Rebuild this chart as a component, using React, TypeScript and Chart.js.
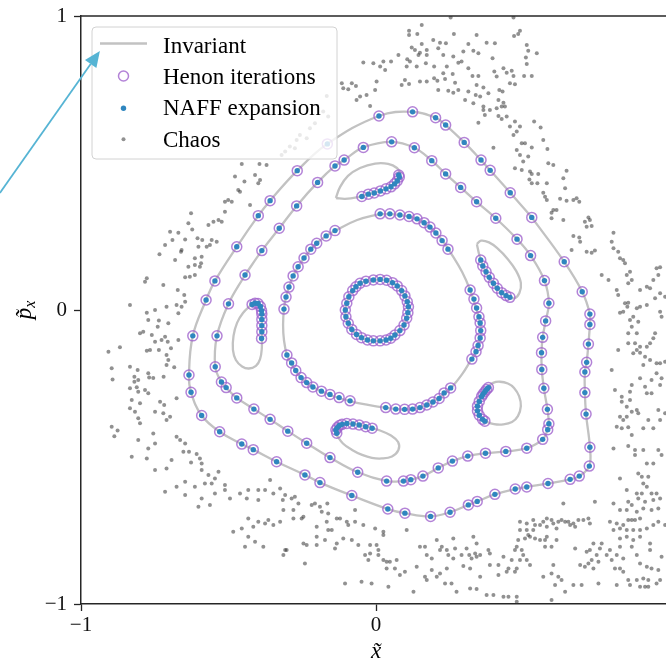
import React, { useEffect, useRef } from 'react';
import { Chart, registerables } from 'chart.js';

Chart.register(...registerables);

type P = [number, number];

// ---------- axes / labels ----------
const X_MIN = -1;
const X_MAX = 0.983;
const Y_MIN = -1;
const Y_MAX = 1;
const X_TICKS = [-1, 0];
const Y_TICKS = [-1, 0, 1];
const X_TITLE = 'x\u0303';
const Y_TITLE_MAIN = 'p\u0303';
const Y_TITLE_SUB = 'x';
const LEGEND_LABELS = ['Invariant', 'Henon iterations', 'NAFF expansion', 'Chaos'];
const ARROW_FROM: P = [-1.275, 0.398];
const ARROW_TO: P = [-0.936, 0.881];

// ---------- Henon iterations (NAFF evaluated at the same turns) ----------
const HENON_C1: P[] = [
  [-0.054, 0.091], [-0.034, 0.098], [-0.009, 0.102], [0.014, 0.104], [0.036, 0.101], [0.056, 0.093],
  [0.072, 0.082], [0.087, 0.066], [0.098, 0.048], [0.106, 0.028], [0.110, 0.011], [0.108, -0.009],
  [0.104, -0.028], [0.095, -0.051], [0.081, -0.070], [0.064, -0.085], [0.050, -0.096], [0.034, -0.102],
  [0.014, -0.105], [-0.009, -0.105], [-0.029, -0.102], [-0.049, -0.094], [-0.066, -0.083], [-0.082, -0.066],
  [-0.094, -0.045], [-0.102, -0.023], [-0.104, 0.0], [-0.099, 0.023], [-0.092, 0.045], [-0.079, 0.066],
  [-0.068, 0.079],
];

const HENON_C2: P[] = [
  [0.014, 0.327], [0.047, 0.327], [0.081, 0.323], [0.112, 0.318], [0.139, 0.310], [0.163, 0.297],
  [0.183, 0.282], [0.203, 0.262], [0.224, 0.236], [0.244, 0.207],
  [0.319, 0.068], [0.332, 0.037], [0.341, 0.007], [0.349, -0.023], [0.353, -0.044], [0.355, -0.070],
  [0.353, -0.095], [0.346, -0.121], [0.339, -0.142], [0.325, -0.167],
  [0.253, -0.265], [0.231, -0.282], [0.214, -0.301], [0.193, -0.313], [0.172, -0.323], [0.149, -0.332],
  [0.124, -0.337], [0.097, -0.338], [0.067, -0.337], [0.033, -0.332],
  [-0.088, -0.309], [-0.125, -0.298], [-0.156, -0.287], [-0.185, -0.276], [-0.214, -0.262], [-0.235, -0.247],
  [-0.254, -0.230], [-0.272, -0.206], [-0.286, -0.180], [-0.302, -0.153],
  [-0.312, 0.003], [-0.305, 0.044], [-0.295, 0.078], [-0.281, 0.116], [-0.264, 0.147], [-0.244, 0.177],
  [-0.221, 0.207], [-0.201, 0.227], [-0.169, 0.252], [-0.139, 0.270],
];

const HENON_C3: P[] = [
  [-0.444, 0.119], [-0.387, 0.202], [-0.328, 0.278], [-0.269, 0.354], [-0.198, 0.434], [-0.139, 0.490],
  [-0.108, 0.510], [-0.043, 0.553], [0.053, 0.572], [0.130, 0.552], [0.189, 0.508], [0.236, 0.463],
  [0.287, 0.417], [0.341, 0.368], [0.406, 0.312], [0.478, 0.241], [0.524, 0.185], [0.571, 0.100],
  [0.586, 0.023], [0.575, -0.037], [0.565, -0.093], [0.561, -0.145], [0.562, -0.202], [0.569, -0.266],
  [0.581, -0.338], [0.586, -0.387], [0.582, -0.407], [0.565, -0.440], [0.511, -0.470], [0.440, -0.481],
  [0.371, -0.487], [0.311, -0.497], [0.259, -0.514], [0.211, -0.537], [0.159, -0.565], [0.118, -0.577],
  [0.093, -0.582], [0.036, -0.582], [-0.062, -0.552], [-0.156, -0.502], [-0.235, -0.453], [-0.299, -0.412],
  [-0.359, -0.372], [-0.414, -0.337], [-0.472, -0.299], [-0.508, -0.264], [-0.524, -0.245], [-0.545, -0.193],
  [-0.539, -0.088], [-0.500, 0.021],
];

const HENON_C4: P[] = [
  [0.528, 0.315], [0.638, 0.164], [0.699, 0.062], [0.725, -0.014], [0.725, -0.049], [0.720, -0.116],
  [0.714, -0.178], [0.708, -0.211], [0.708, -0.281], [0.712, -0.354], [0.725, -0.467], [0.723, -0.531],
  [0.689, -0.565], [0.658, -0.576], [0.583, -0.590], [0.511, -0.602], [0.472, -0.609], [0.403, -0.627],
  [0.343, -0.651], [0.313, -0.663], [0.251, -0.688], [0.185, -0.702], [0.098, -0.691], [0.040, -0.677],
  [-0.082, -0.631], [-0.190, -0.587], [-0.241, -0.561], [-0.337, -0.516], [-0.416, -0.475], [-0.455, -0.456],
  [-0.530, -0.414], [-0.591, -0.359], [-0.627, -0.280], [-0.634, -0.221], [-0.621, -0.088], [-0.576, 0.034],
  [-0.546, 0.099], [-0.472, 0.215], [-0.399, 0.321], [-0.359, 0.372], [-0.267, 0.474], [-0.165, 0.565],
  [0.010, 0.660], [0.124, 0.674], [0.202, 0.654], [0.236, 0.629], [0.299, 0.570], [0.356, 0.510],
  [0.387, 0.475], [0.455, 0.399],
];

const HENON_ISL_A: P[] = [
  [-0.048, 0.386], [-0.026, 0.394], [-0.006, 0.398], [0.015, 0.405], [0.034, 0.412], [0.051, 0.419],
  [0.063, 0.429], [0.072, 0.439], [0.079, 0.452], [0.077, 0.459],
];
const HENON_ISL_B: P[] = [
  [0.355, 0.170], [0.362, 0.150], [0.373, 0.130], [0.384, 0.111], [0.398, 0.091], [0.411, 0.074],
  [0.426, 0.059], [0.441, 0.049], [0.454, 0.043],
];
const HENON_ISL_C: P[] = [
  [0.381, -0.264], [0.375, -0.270], [0.369, -0.278], [0.363, -0.286], [0.358, -0.294], [0.350, -0.311],
  [0.344, -0.327], [0.344, -0.343], [0.350, -0.358], [0.361, -0.372], [0.369, -0.378],
];
const HENON_ISL_D: P[] = [
  [-0.133, -0.419], [-0.136, -0.408], [-0.131, -0.400], [-0.124, -0.393], [-0.115, -0.389], [-0.099, -0.386],
  [-0.078, -0.388], [-0.057, -0.391], [-0.035, -0.397], [-0.013, -0.402],
];
const HENON_ISL_E: P[] = [
  [-0.420, 0.019], [-0.410, 0.023], [-0.400, 0.022], [-0.392, 0.012], [-0.388, -0.002], [-0.387, -0.014],
  [-0.387, -0.032], [-0.387, -0.053], [-0.387, -0.074], [-0.388, -0.097],
];

// ---------- invariant curves (where they differ from the iterations) ----------
const INV_C2: P[] = [
  [0.014, 0.327], [0.081, 0.323], [0.136, 0.310], [0.183, 0.282], [0.224, 0.238], [0.258, 0.187],
  [0.292, 0.129], [0.319, 0.068], [0.339, 0.007], [0.353, -0.044], [0.356, -0.071], [0.353, -0.095],
  [0.339, -0.143], [0.322, -0.170], [0.292, -0.218], [0.254, -0.265], [0.214, -0.299], [0.173, -0.323],
  [0.125, -0.337], [0.068, -0.337], [0.034, -0.333], [-0.027, -0.323], [-0.088, -0.310], [-0.156, -0.289],
  [-0.214, -0.262], [-0.254, -0.231], [-0.285, -0.187], [-0.302, -0.153], [-0.312, -0.102], [-0.315, -0.051],
  [-0.312, 0.003], [-0.305, 0.044], [-0.295, 0.078], [-0.281, 0.116], [-0.264, 0.146], [-0.244, 0.177],
  [-0.220, 0.207], [-0.200, 0.228], [-0.169, 0.252], [-0.139, 0.269], [-0.064, 0.306],
];
const INV_ISL_A: P[] = [
  [-0.136, 0.381], [-0.122, 0.418], [-0.095, 0.456], [-0.054, 0.483], [-0.003, 0.498], [0.041, 0.497],
  [0.071, 0.483], [0.083, 0.463], [0.078, 0.442], [0.058, 0.425], [0.024, 0.408], [-0.020, 0.395],
  [-0.061, 0.384], [-0.105, 0.378],
];
const INV_ISL_B: P[] = [
  [0.342, 0.224], [0.356, 0.236], [0.383, 0.230], [0.410, 0.211], [0.447, 0.173], [0.475, 0.133],
  [0.491, 0.092], [0.486, 0.058], [0.468, 0.040], [0.444, 0.046], [0.414, 0.070], [0.386, 0.105],
  [0.366, 0.143], [0.351, 0.184],
];
const INV_ISL_C: P[] = [
  [0.376, -0.265], [0.397, -0.248], [0.420, -0.244], [0.447, -0.250], [0.468, -0.265], [0.485, -0.293],
  [0.491, -0.327], [0.481, -0.361], [0.461, -0.381], [0.431, -0.389], [0.400, -0.388], [0.373, -0.379],
  [0.353, -0.362], [0.342, -0.340], [0.345, -0.316], [0.354, -0.294], [0.366, -0.276],
];
const INV_ISL_D: P[] = [
  [-0.136, -0.422], [-0.112, -0.454], [-0.081, -0.476], [-0.047, -0.493], [-0.014, -0.503], [0.020, -0.505],
  [0.054, -0.498], [0.076, -0.476], [0.075, -0.449], [0.051, -0.427], [0.014, -0.410], [-0.027, -0.398],
  [-0.071, -0.388], [-0.112, -0.388], [-0.132, -0.401],
];
const INV_ISL_E: P[] = [
  [-0.424, 0.017], [-0.451, -0.010], [-0.471, -0.044], [-0.483, -0.088], [-0.485, -0.136], [-0.475, -0.170],
  [-0.454, -0.192], [-0.431, -0.199], [-0.407, -0.190], [-0.393, -0.167], [-0.387, -0.129], [-0.387, -0.085],
  [-0.387, -0.034], [-0.390, 0.003], [-0.403, 0.026],
];

// ---------- chaotic orbit ----------
const CHAOS_TOP: P[] = [
  [0.253, 0.995], [0.466, 0.995], [0.155, 0.969], [0.112, 0.950], [0.140, 0.939], [0.112, 0.935], [0.264, 0.939],
  [0.341, 0.935], [0.488, 0.950], [0.482, 0.939], [0.468, 0.932], [0.194, 0.918], [0.217, 0.909], [0.237, 0.907],
  [0.155, 0.905], [0.313, 0.905], [0.375, 0.909], [0.403, 0.907], [0.511, 0.901], [0.121, 0.893], [0.132, 0.884],
  [0.172, 0.884], [0.211, 0.890], [0.296, 0.879], [0.330, 0.882], [0.347, 0.873], [0.516, 0.882], [0.545, 0.873],
  [0.076, 0.867], [0.149, 0.875], [0.144, 0.867], [0.172, 0.867], [0.228, 0.867], [0.262, 0.862], [0.279, 0.841],
  [0.290, 0.845], [0.395, 0.856], [0.508, 0.859], [0.106, 0.853], [0.115, 0.845], [-0.043, 0.842], [-0.009, 0.839],
  [0.025, 0.845], [0.051, 0.845], [0.014, 0.828], [0.031, 0.816], [0.104, 0.828], [0.138, 0.828], [0.169, 0.839],
  [0.197, 0.828], [0.240, 0.828], [0.313, 0.822], [0.401, 0.811], [0.432, 0.822], [0.460, 0.814], [0.511, 0.837],
  [0.443, 0.807], [0.228, 0.805], [0.260, 0.803], [0.327, 0.796], [0.347, 0.796], [0.409, 0.794], [0.466, 0.796],
  [0.502, 0.796], [0.528, 0.796], [0.098, 0.782], [0.087, 0.765], [0.112, 0.769], [0.149, 0.777], [0.172, 0.777],
  [0.197, 0.788], [0.208, 0.780], [0.234, 0.786], [0.268, 0.773], [0.341, 0.765], [0.364, 0.757], [0.418, 0.748],
  [0.429, 0.743], [0.471, 0.768], [0.454, 0.771], [-0.116, 0.771], [-0.082, 0.771], [-0.111, 0.754], [-0.094, 0.751],
  [-0.068, 0.762], [0.002, 0.777], [-0.003, 0.748], [-0.032, 0.731], [-0.066, 0.714], [-0.054, 0.726], [0.211, 0.748],
  [0.245, 0.746], [0.279, 0.748], [0.262, 0.739], [0.313, 0.743], [0.338, 0.731], [0.353, 0.726], [0.381, 0.737],
  [0.415, 0.714], [0.432, 0.705], [0.409, 0.686], [0.426, 0.692], [0.437, 0.692], [0.330, 0.703], [0.364, 0.692],
  [0.302, 0.714], [0.364, 0.680], [0.369, 0.663], [0.415, 0.660], [0.426, 0.650], [0.443, 0.658], [0.386, 0.680],
  [0.347, 0.637], [0.454, 0.624], [0.471, 0.641], [0.488, 0.624], [0.477, 0.607], [0.536, 0.641], [0.558, 0.621],
  [0.466, 0.595], [0.494, 0.567], [0.505, 0.567], [0.528, 0.553], [0.477, 0.544], [0.488, 0.527], [0.516, 0.522],
  [0.499, 0.505], [0.398, 0.552], [0.567, 0.578], [0.581, 0.548], [0.601, 0.493], [0.584, 0.499], [0.471, 0.482],
  [0.494, 0.476], [0.522, 0.471], [0.528, 0.463], [0.550, 0.463], [0.520, 0.444], [0.528, 0.431], [0.547, 0.431],
  [0.579, 0.431], [0.646, 0.474], [0.635, 0.448], [0.567, 0.399], [0.573, 0.385], [0.579, 0.374], [0.624, 0.378],
  [0.646, 0.372], [0.669, 0.374], [0.680, 0.380], [0.689, 0.368], [0.641, 0.414], [0.601, 0.340], [0.612, 0.340],
  [0.595, 0.331], [0.595, 0.312], [0.635, 0.306], [0.720, 0.315], [0.708, 0.300], [0.725, 0.306], [0.714, 0.283],
  [0.731, 0.286], [0.805, 0.263], [0.669, 0.252], [0.689, 0.247], [-0.020, 0.694],
  [0.692, 0.232], [0.742, 0.202], [0.731, 0.195], [0.714, 0.198], [0.663, 0.204],
];

const CHAOS_UNDER_LEGEND: P[] = [
  [-0.167, 0.728], [-0.179, 0.675], [-0.162, 0.658], [-0.207, 0.635], [-0.224, 0.618], [-0.258, 0.595],
  [-0.269, 0.578], [-0.292, 0.556], [-0.308, 0.539], [-0.320, 0.527], [-0.235, 0.584], [-0.275, 0.550],
];

const CHAOS_RIGHT: P[] = [
  [0.799, 0.232], [0.805, 0.210], [0.821, 0.198], [0.827, 0.176], [0.838, 0.170], [0.765, 0.119], [0.788, 0.102],
  [0.844, 0.159], [0.861, 0.130], [0.850, 0.119], [0.867, 0.102], [0.855, 0.091], [0.895, 0.068], [0.918, 0.079],
  [0.929, 0.074], [0.951, 0.142], [0.963, 0.145], [0.957, 0.119], [0.940, 0.102], [0.816, 0.068], [0.821, 0.051],
  [0.844, 0.023], [0.855, 0.025], [0.852, 0.011], [0.838, -0.006], [0.827, -0.009], [0.884, 0.006], [0.895, 0.011],
  [0.918, 0.017], [0.946, 0.040], [0.963, 0.057], [0.980, 0.045], [0.963, -0.006], [0.968, -0.023], [0.872, -0.023],
  [0.861, -0.034], [0.889, -0.040], [0.867, -0.057], [0.855, -0.079], [0.884, -0.079], [0.855, -0.113], [0.878, -0.113],
  [0.895, -0.125], [0.918, -0.125], [0.929, -0.113], [0.884, -0.136], [0.872, -0.147], [0.895, -0.145], [0.912, -0.159],
  [0.929, -0.170], [0.906, -0.187], [0.951, -0.181], [0.963, -0.181], [0.980, -0.176], [0.940, -0.096], [0.946, -0.079],
  [0.821, -0.136], [0.799, -0.204], [0.895, -0.232], [0.934, -0.238], [0.951, -0.215], [0.968, -0.232], [0.963, -0.255],
  [0.912, -0.261], [0.918, -0.283], [0.934, -0.283], [0.867, -0.255], [0.861, -0.278], [0.810, -0.272], [0.833, -0.295],
  [0.861, -0.306], [0.833, -0.312], [0.850, -0.329], [0.867, -0.346], [0.827, -0.363], [0.850, -0.363], [0.838, -0.374],
  [0.884, -0.340], [0.889, -0.351], [0.855, -0.399], [0.816, -0.397], [0.833, -0.402], [0.867, -0.425], [0.906, -0.402],
  [0.923, -0.374], [0.940, -0.402], [0.957, -0.340], [0.980, -0.351], [0.963, -0.374],
];

const CHAOS_LEFT: P[] = [
  [-0.455, 0.497], [-0.395, 0.497], [-0.371, 0.493], [-0.478, 0.454], [-0.446, 0.437], [-0.410, 0.459], [-0.393, 0.442],
  [-0.399, 0.431], [-0.461, 0.402], [-0.467, 0.408], [-0.501, 0.374], [-0.512, 0.368], [-0.489, 0.368], [-0.427, 0.357],
  [-0.512, 0.334], [-0.627, 0.329], [-0.551, 0.300], [-0.534, 0.306], [-0.523, 0.300], [-0.568, 0.289], [-0.636, 0.295],
  [-0.623, 0.274], [-0.698, 0.266], [-0.670, 0.263], [-0.647, 0.240], [-0.715, 0.221], [-0.690, 0.238], [-0.605, 0.244],
  [-0.589, 0.238], [-0.557, 0.238], [-0.540, 0.232], [-0.602, 0.215], [-0.574, 0.215], [-0.563, 0.221], [-0.659, 0.204],
  [-0.661, 0.198], [-0.734, 0.190], [-0.681, 0.170], [-0.614, 0.176], [-0.591, 0.181], [-0.636, 0.147], [-0.614, 0.153],
  [-0.593, 0.159], [-0.597, 0.147], [-0.647, 0.111], [-0.631, 0.113], [-0.614, 0.119], [-0.777, 0.108], [-0.783, 0.096],
  [-0.721, 0.085], [-0.672, 0.068], [-0.650, 0.051], [-0.647, 0.028], [-0.659, 0.011], [-0.676, 0.017], [-0.710, 0.011],
  [-0.670, -0.011], [-0.834, 0.017], [-0.777, -0.009], [-0.749, 0.000], [-0.772, -0.034], [-0.736, -0.036], [-0.740, -0.057],
  [-0.704, -0.045], [-0.800, -0.079], [-0.789, -0.074], [-0.760, -0.085], [-0.715, -0.091], [-0.749, -0.108], [-0.727, -0.102],
  [-0.706, -0.108], [-0.670, -0.102], [-0.695, -0.130], [-0.777, -0.139], [-0.766, -0.136], [-0.736, -0.136], [-0.710, -0.153],
  [-0.907, -0.142], [-0.868, -0.127], [-0.704, -0.170], [-0.710, -0.187], [-0.684, -0.195], [-0.896, -0.198], [-0.834, -0.193],
  [-0.808, -0.204], [-0.772, -0.215], [-0.893, -0.236], [-0.819, -0.227], [-0.806, -0.238], [-0.769, -0.230], [-0.720, -0.227],
  [-0.755, -0.231], [-0.819, -0.244], [-0.834, -0.266], [-0.811, -0.263], [-0.806, -0.278], [-0.783, -0.272], [-0.772, -0.283],
  [-0.676, -0.300], [-0.828, -0.306], [-0.800, -0.317], [-0.732, -0.312], [-0.718, -0.323], [-0.817, -0.346], [-0.834, -0.334],
  [-0.749, -0.346], [-0.721, -0.351], [-0.698, -0.363], [-0.806, -0.368], [-0.800, -0.385], [-0.710, -0.374], [-0.896, -0.397],
  [-0.876, -0.410], [-0.887, -0.429], [-0.755, -0.420], [-0.676, -0.431], [-0.664, -0.442], [-0.647, -0.454], [-0.806, -0.442],
  [-0.749, -0.454], [-0.772, -0.471], [-0.653, -0.482], [-0.634, -0.482], [-0.608, -0.490], [-0.591, -0.522], [-0.627, -0.519],
  [-0.597, -0.505], [-0.828, -0.499], [-0.777, -0.505], [-0.749, -0.544], [-0.710, -0.539], [-0.693, -0.510], [-0.591, -0.544],
  [-0.534, -0.550], [-0.568, -0.561], [-0.546, -0.573], [-0.647, -0.584], [-0.614, -0.601], [-0.580, -0.590], [-0.557, -0.590],
  [-0.512, -0.595], [-0.676, -0.601], [-0.715, -0.618], [-0.647, -0.629], [-0.591, -0.641], [-0.546, -0.624], [-0.512, -0.612],
  [-0.495, -0.641], [-0.461, -0.624], [-0.433, -0.612], [-0.438, -0.641], [-0.399, -0.612], [-0.376, -0.612], [-0.399, -0.646],
  [-0.602, -0.669], [-0.563, -0.663], [-0.484, -0.754], [-0.455, -0.743], [-0.433, -0.709], [-0.416, -0.737], [-0.399, -0.720],
  [-0.376, -0.726], [-0.365, -0.714], [-0.433, -0.771], [-0.410, -0.788], [-0.444, -0.805], [-0.382, -0.805],
];

const CHAOS_BOTTOM: P[] = [
  [-0.359, -0.578], [-0.348, -0.624], [-0.325, -0.607], [-0.316, -0.646], [-0.308, -0.629], [-0.286, -0.641], [-0.275, -0.635],
  [-0.280, -0.680], [-0.314, -0.680], [-0.263, -0.658], [-0.218, -0.663], [-0.207, -0.658], [-0.190, -0.669], [-0.165, -0.658],
  [-0.184, -0.686], [-0.162, -0.692], [-0.348, -0.731], [-0.325, -0.720], [-0.280, -0.709], [-0.252, -0.709], [-0.246, -0.703],
  [-0.201, -0.737], [-0.167, -0.720], [-0.162, -0.748], [-0.150, -0.748], [-0.133, -0.709], [-0.122, -0.709], [-0.099, -0.720],
  [-0.094, -0.731], [-0.071, -0.720], [-0.071, -0.680], [-0.043, -0.731], [-0.003, -0.743], [0.025, -0.754], [0.025, -0.765],
  [-0.308, -0.816], [-0.314, -0.833], [-0.303, -0.816], [-0.246, -0.794], [-0.235, -0.799], [-0.201, -0.771], [-0.201, -0.799],
  [-0.173, -0.782], [-0.133, -0.794], [-0.139, -0.811], [-0.111, -0.777], [-0.082, -0.782], [-0.060, -0.799], [-0.037, -0.833],
  [-0.020, -0.828], [-0.020, -0.799], [0.002, -0.799], [0.008, -0.816], [0.008, -0.833], [-0.026, -0.850], [-0.241, -0.862],
  [-0.105, -0.930], [-0.049, -0.924], [-0.015, -0.930], [0.025, -0.850], [0.036, -0.856], [0.047, -0.856], [0.070, -0.850],
  [0.064, -0.879], [0.098, -0.890], [0.081, -0.901], [0.036, -0.879], [0.042, -0.941], [0.104, -0.748], [0.127, -0.958],
  [0.138, -0.873], [0.149, -0.805], [0.166, -0.805], [0.172, -0.833], [0.189, -0.845], [0.206, -0.782], [0.217, -0.816],
  [0.223, -0.805], [0.240, -0.816], [0.268, -0.811], [0.245, -0.833], [0.262, -0.845], [0.290, -0.833], [0.307, -0.811],
  [0.316, -0.833], [0.324, -0.845], [0.336, -0.828], [0.341, -0.839], [0.353, -0.833], [0.381, -0.816], [0.386, -0.828],
  [0.330, -0.771], [0.341, -0.794], [0.262, -0.777], [0.206, -0.907], [0.217, -0.896], [0.234, -0.930], [0.256, -0.930],
  [0.273, -0.958], [0.319, -0.947], [0.341, -0.949], [0.375, -0.969], [0.398, -0.969], [0.432, -0.975], [0.449, -0.975],
  [0.477, -0.975], [0.477, -0.992], [0.166, -0.907], [0.172, -0.918], [0.189, -0.884], [0.240, -0.879], [0.296, -0.871],
  [0.319, -0.879], [0.353, -0.907], [0.386, -0.867], [0.415, -0.867], [0.415, -0.901], [0.432, -0.839], [0.443, -0.890],
  [0.449, -0.879], [0.471, -0.890], [0.477, -0.879], [0.460, -0.850], [0.488, -0.850], [0.494, -0.816], [0.499, -0.833],
  [0.511, -0.850], [0.522, -0.867], [0.477, -0.805], [0.471, -0.816], [0.516, -0.765], [0.482, -0.782], [0.505, -0.777],
  [0.522, -0.771], [0.539, -0.777], [0.556, -0.782], [0.573, -0.782], [0.488, -0.720], [0.511, -0.726], [0.533, -0.714],
  [0.539, -0.731], [0.556, -0.731], [0.567, -0.720], [0.579, -0.709], [0.579, -0.737], [0.595, -0.714], [0.601, -0.726],
  [0.612, -0.743], [0.618, -0.720], [0.629, -0.714], [0.641, -0.720], [0.652, -0.720], [0.658, -0.731], [0.669, -0.726],
  [0.675, -0.737], [0.686, -0.714], [0.703, -0.714], [0.720, -0.709], [0.725, -0.726], [0.488, -0.748], [0.511, -0.748],
  [0.533, -0.748], [0.579, -0.771], [0.595, -0.805], [0.612, -0.782], [0.573, -0.805], [0.675, -0.811], [0.714, -0.822],
  [0.725, -0.816], [0.737, -0.794], [0.765, -0.794], [0.759, -0.811], [0.748, -0.833], [0.731, -0.850], [0.754, -0.856],
  [0.720, -0.862], [0.692, -0.867], [0.708, -0.873], [0.737, -0.879], [0.601, -0.867], [0.567, -0.907], [0.595, -0.896],
  [0.618, -0.907], [0.607, -0.935], [0.629, -0.918], [0.641, -0.958], [0.595, -0.986], [0.669, -0.935], [0.697, -0.935],
  [0.754, -0.930], [0.793, -0.720], [0.816, -0.726], [0.838, -0.731], [0.867, -0.714], [0.805, -0.748], [0.827, -0.743],
  [0.850, -0.748], [0.872, -0.748], [0.895, -0.748], [0.918, -0.743], [0.940, -0.731], [0.827, -0.777], [0.850, -0.771],
  [0.872, -0.782], [0.895, -0.771], [0.929, -0.794], [0.867, -0.805], [0.827, -0.805], [0.793, -0.816], [0.782, -0.833],
  [0.799, -0.850], [0.816, -0.833], [0.838, -0.845], [0.810, -0.879], [0.827, -0.879], [0.838, -0.890], [0.884, -0.833],
  [0.895, -0.862], [0.918, -0.873], [0.934, -0.879], [0.957, -0.884], [0.968, -0.839], [0.929, -0.816], [0.855, -0.918],
  [0.884, -0.918], [0.895, -0.941], [0.906, -0.913], [0.923, -0.918], [0.923, -0.941], [0.951, -0.930], [0.963, -0.918],
  [0.816, -0.935], [0.861, -0.935], [0.912, -0.941],
  [0.805, -0.471], [0.855, -0.463], [0.878, -0.476], [0.906, -0.476], [0.957, -0.476], [0.968, -0.493], [0.878, -0.493],
  [0.918, -0.522], [0.940, -0.522], [0.827, -0.573], [0.889, -0.556], [0.901, -0.567], [0.923, -0.567], [0.906, -0.590],
  [0.918, -0.601], [0.850, -0.612], [0.884, -0.624], [0.901, -0.624], [0.934, -0.624], [0.951, -0.624], [0.912, -0.652],
  [0.940, -0.646], [0.963, -0.641], [0.855, -0.652], [0.889, -0.641], [0.867, -0.663], [0.827, -0.680], [0.850, -0.680],
  [0.884, -0.686], [0.906, -0.675], [0.934, -0.680], [0.957, -0.675], [0.805, -0.658], [0.742, -0.652], [0.635, -0.658],
  [0.855, -0.714], [0.878, -0.714], [0.895, -0.709], [0.957, -0.720], [0.980, -0.731],
];

// ---------- styles ----------
const INV_COLOR = '#c2c2c2';
const HENON_COLOR = 'rgba(160,100,205,0.8)';
const NAFF_COLOR = '#2f86bf';
const CHAOS_COLOR = 'rgba(55,55,55,0.55)';
const ARROW_COLOR = '#56b4d4';
const SPINE_COLOR = '#262626';
const SERIF = "'Liberation Serif', 'DejaVu Serif', serif";

const fmtTick = (v: number) => (v < 0 ? '\u2212' + Math.abs(v) : String(v));

const decorPlugin = {
  id: 'decor',
  afterDraw(chart: any) {
    const { ctx, chartArea: a, scales } = chart;
    const sx = scales.x;
    const sy = scales.y;
    ctx.save();

    // top spine
    ctx.strokeStyle = SPINE_COLOR;
    ctx.lineWidth = 1.5;
    ctx.beginPath();
    ctx.moveTo(a.left, a.top);
    ctx.lineTo(a.right, a.top);
    ctx.stroke();

    // legend
    const bx = a.left + 11;
    const by = a.top + 11;
    const bw = 245;
    const bh = 132;
    ctx.beginPath();
    if (ctx.roundRect) ctx.roundRect(bx, by, bw, bh, 4);
    else ctx.rect(bx, by, bw, bh);
    ctx.fillStyle = 'rgba(255,255,255,0.8)';
    ctx.fill();
    ctx.strokeStyle = '#d2d2d2';
    ctx.lineWidth = 1;
    ctx.stroke();

    const cx = bx + 31.5;
    ctx.strokeStyle = INV_COLOR;
    ctx.lineWidth = 2.3;
    ctx.beginPath();
    ctx.moveTo(bx + 8, by + 16.5);
    ctx.lineTo(bx + 55, by + 16.5);
    ctx.stroke();

    ctx.strokeStyle = HENON_COLOR;
    ctx.lineWidth = 1.5;
    ctx.beginPath();
    ctx.arc(cx, by + 49, 5, 0, Math.PI * 2);
    ctx.stroke();

    ctx.fillStyle = NAFF_COLOR;
    ctx.beginPath();
    ctx.arc(cx, by + 81.3, 2.7, 0, Math.PI * 2);
    ctx.fill();

    ctx.fillStyle = CHAOS_COLOR;
    ctx.beginPath();
    ctx.arc(cx, by + 112.3, 2, 0, Math.PI * 2);
    ctx.fill();

    const baselines = [26.3, 57, 88, 119.7];
    ctx.fillStyle = '#000';
    ctx.font = `23px ${SERIF}`;
    ctx.textAlign = 'left';
    ctx.textBaseline = 'alphabetic';
    LEGEND_LABELS.forEach((t, i) => ctx.fillText(t, bx + 71, by + baselines[i]));

    // axis titles
    ctx.font = `italic 23px ${SERIF}`;
    ctx.textAlign = 'center';
    ctx.fillText(X_TITLE, sx.getPixelForValue(0), 658);

    ctx.save();
    ctx.translate(31, (a.top + a.bottom) / 2);
    ctx.rotate(-Math.PI / 2);
    ctx.font = `italic 23px ${SERIF}`;
    const w1 = ctx.measureText(Y_TITLE_MAIN).width;
    ctx.font = `italic 16px ${SERIF}`;
    const w2 = ctx.measureText(Y_TITLE_SUB).width;
    const start = -(w1 + w2) / 2;
    ctx.textAlign = 'left';
    ctx.font = `italic 23px ${SERIF}`;
    ctx.fillText(Y_TITLE_MAIN, start, 0);
    ctx.font = `italic 16px ${SERIF}`;
    ctx.fillText(Y_TITLE_SUB, start + w1, 4);
    ctx.restore();

    // arrow
    const x0 = sx.getPixelForValue(ARROW_FROM[0]);
    const y0 = sy.getPixelForValue(ARROW_FROM[1]);
    const x1 = sx.getPixelForValue(ARROW_TO[0]);
    const y1 = sy.getPixelForValue(ARROW_TO[1]);
    const ang = Math.atan2(y1 - y0, x1 - x0);
    const hl = 16;
    const hw = 7;
    const hx = x1 - hl * Math.cos(ang);
    const hy = y1 - hl * Math.sin(ang);
    ctx.strokeStyle = ARROW_COLOR;
    ctx.lineWidth = 1.8;
    ctx.beginPath();
    ctx.moveTo(x0, y0);
    ctx.lineTo(hx, hy);
    ctx.stroke();
    ctx.fillStyle = ARROW_COLOR;
    ctx.beginPath();
    ctx.moveTo(x1, y1);
    ctx.lineTo(hx + hw * Math.sin(ang), hy - hw * Math.cos(ang));
    ctx.lineTo(hx - hw * Math.sin(ang), hy + hw * Math.cos(ang));
    ctx.closePath();
    ctx.fill();

    ctx.restore();
  },
};

export default function App() {
  const ref = useRef<HTMLCanvasElement>(null);

  useEffect(() => {
    const toXY = (arr: P[]) => arr.map(([x, y]) => ({ x, y }));
    const closed = (arr: P[]) => toXY([...arr, arr[0]]);

    const henonAll: P[] = [
      ...HENON_C1, ...HENON_C2, ...HENON_C3, ...HENON_C4,
      ...HENON_ISL_A, ...HENON_ISL_B, ...HENON_ISL_C, ...HENON_ISL_D, ...HENON_ISL_E,
    ];
    const chaosAll: P[] = [...CHAOS_TOP, ...CHAOS_UNDER_LEGEND, ...CHAOS_RIGHT, ...CHAOS_LEFT, ...CHAOS_BOTTOM];
    const invariants = [
      closed(HENON_C1), closed(INV_C2), closed(HENON_C3), closed(HENON_C4),
      closed(INV_ISL_A), closed(INV_ISL_B), closed(INV_ISL_C), closed(INV_ISL_D), closed(INV_ISL_E),
    ];

    const datasets: any[] = [
      {
        label: 'NAFF expansion',
        data: toXY(henonAll),
        pointRadius: 2.7,
        pointBackgroundColor: NAFF_COLOR,
        pointBorderWidth: 0,
        showLine: false,
        order: 0,
      },
      {
        label: 'Henon iterations',
        data: toXY(henonAll),
        pointRadius: 5,
        pointBackgroundColor: 'rgba(255,255,255,0)',
        pointBorderColor: HENON_COLOR,
        pointBorderWidth: 1.5,
        showLine: false,
        order: 1,
      },
      ...invariants.map((d, i) => ({
        label: i === 0 ? 'Invariant' : 'Invariant ' + i,
        data: d,
        showLine: true,
        borderColor: INV_COLOR,
        borderWidth: 2.3,
        pointRadius: 0,
        tension: 0.4,
        fill: false,
        order: 2,
      })),
      {
        label: 'Chaos',
        data: toXY(chaosAll),
        pointRadius: 2,
        pointBackgroundColor: CHAOS_COLOR,
        pointBorderWidth: 0,
        showLine: false,
        order: 3,
      },
    ];

    const tickFont = { family: SERIF, size: 21 };

    const chart = new Chart(ref.current as HTMLCanvasElement, {
      type: 'scatter',
      data: { datasets },
      options: {
        animation: false,
        responsive: false,
        devicePixelRatio: 1,
        events: [],
        layout: { autoPadding: false, padding: { top: 16, right: 0, bottom: 0, left: 0 } },
        plugins: { legend: { display: false }, tooltip: { enabled: false } },
        scales: {
          x: {
            type: 'linear',
            min: X_MIN,
            max: X_MAX,
            afterBuildTicks: (s: any) => {
              s.ticks = X_TICKS.map((v) => ({ value: v }));
            },
            afterFit: (s: any) => {
              s.height = 57;
              s.paddingLeft = 0;
              s.paddingRight = 0;
            },
            ticks: {
              callback: (v: any) => fmtTick(Number(v)),
              font: tickFont,
              color: '#111',
              padding: 2,
              maxRotation: 0,
              autoSkip: false,
            },
            grid: {
              drawOnChartArea: false,
              drawTicks: true,
              tickLength: 7,
              tickWidth: 1.3,
              tickColor: SPINE_COLOR,
            },
            border: { display: true, color: SPINE_COLOR, width: 1.5 },
          },
          y: {
            type: 'linear',
            min: Y_MIN,
            max: Y_MAX,
            afterBuildTicks: (s: any) => {
              s.ticks = Y_TICKS.map((v) => ({ value: v }));
            },
            afterFit: (s: any) => {
              s.width = 81;
              s.paddingTop = 0;
              s.paddingBottom = 0;
            },
            ticks: {
              callback: (v: any) => fmtTick(Number(v)),
              font: tickFont,
              color: '#111',
              padding: 7,
              autoSkip: false,
            },
            grid: {
              drawOnChartArea: false,
              drawTicks: true,
              tickLength: 7,
              tickWidth: 1.3,
              tickColor: SPINE_COLOR,
            },
            border: { display: true, color: SPINE_COLOR, width: 1.5 },
          },
        },
      },
      plugins: [decorPlugin],
    } as any);

    return () => chart.destroy();
  }, []);

  return (
    <div style={{ position: 'fixed', left: 0, top: 0, width: 666, height: 661, background: '#fff' }}>
      <canvas ref={ref} width={666} height={661} style={{ display: 'block', width: 666, height: 661 }} />
    </div>
  );
}
